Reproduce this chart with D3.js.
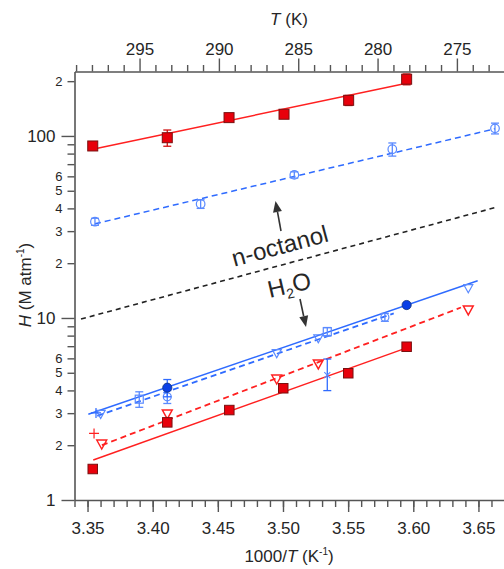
<!DOCTYPE html>
<html><head><meta charset="utf-8">
<script src="https://cdn.jsdelivr.net/npm/d3@7"></script>
<style>
body{margin:0;background:#fff}
svg{display:block}
text{font-family:"Liberation Sans",Arial,Helvetica,sans-serif;fill:#262626}
</style>
</head><body><svg id="c" width="504" height="569"></svg>
<script>
// ---------- data (x = 1000/T, H in M atm^-1) ----------
// n-octanol
const octRedX   = [3.354, 3.4112, 3.4586, 3.5008, 3.5504, 3.5949];
const octRedH   = [88.1, 97.8, 126.1, 131.6, 157, 205];
const octRedErr = [2, 10, 4, 3, 10, 14];
const octRedFitX = [3.354, 3.5949];
const octRedFitH = [84.5, 194.8];

const octBlueX   = [3.3557, 3.4368, 3.5087, 3.5839, 3.6627];
const octBlueH   = [33.8, 42.3, 61.1, 84.5, 110.1];
const octBlueErr = [1.5, 2.3, 2.4, 7, 7.5];
const octBlueFitX = [3.3557, 3.6627];
const octBlueFitH = [32.9, 109.5];

const blackFitX = [3.345, 3.6627];
const blackFitH = [9.87, 40.4];

// water
const watBlueFilledX = [3.4112, 3.5949];
const watBlueFilledH = [4.14, 11.78];
const watBlueFilledErr = [0.45, 0];
const watBlueFitX = [3.3506, 3.6494];
const watBlueFitH = [2.96, 16.0];
const watBluePlusX = [3.3565];
const watBluePlusH = [3.01];
const watBlueCircX = [3.4112, 3.5782];
const watBlueCircH = [3.69, 10.09];
const watBlueCircErr = [0.3, 0.5];
const watBlueSqX = [3.3897, 3.534];
const watBlueSqH = [3.58, 8.41];
const watBlueSqErr = [0.35, 0.45];
const watBlueTriX = [3.3601, 3.4952, 3.5271, 3.6422];
const watBlueTriH = [2.97, 6.40, 7.73, 14.56];
const watBlueCrossX = [3.534];
const watBlueCrossH = [4.86];
const watBlueCrossLo = [3.99];
const watBlueCrossHi = [5.95];
const watBlueDashX = [3.3575, 3.585];
const watBlueDashH = [2.90, 10.6];

const watRedTriX = [3.3609, 3.4112, 3.4952, 3.5271, 3.6422];
const watRedTriH = [2.03, 2.97, 4.62, 5.59, 11.07];
const watRedPlusX = [3.355];
const watRedPlusH = [2.32];
const watRedDashX = [3.361, 3.6366];
const watRedDashH = [2.00, 11.42];
const watRedSqX = [3.354, 3.4112, 3.4588, 3.5002, 3.5501, 3.5949];
const watRedSqH = [1.48, 2.67, 3.12, 4.11, 4.97, 6.95];
const watRedFitX = [3.3544, 3.5949];
const watRedFitH = [1.66, 6.85];

// ticks
const xMajor = [3.35, 3.40, 3.45, 3.50, 3.55, 3.60, 3.65];
const xMinor = d3.range(334, 368).map(v => v / 100);
const yMajor = [1, 10, 100];
const yMinor = [2,3,4,5,6,7,8,9,20,30,40,50,60,70,80,90,200];
const tMajor = [295, 290, 285, 280, 275];
const tMinor = d3.range(273, 300).filter(v => v % 5 !== 0);

// ---------- scales ----------
const svg = d3.select("#c");
const x = d3.scaleLinear().domain([3.34, 3.67]).range([74.5, 504.5]);
const y = d3.scaleLog().domain([1, 226]).range([500, 71.5]);
const xT = d3.scaleLinear().domain([299.1, 272.0]).range([74.5, 504.5]);

const AX = "#555";
function style(g, fs, keepDomain) {
  g.attr("font-family", null);
  if (!keepDomain) g.select(".domain").remove();
  else g.select(".domain").attr("stroke", AX).attr("stroke-width", 1.6);
  g.selectAll(".tick line").attr("stroke", AX).attr("stroke-width", 1.4);
  g.selectAll(".tick text").attr("font-size", fs).attr("fill", "#262626");
}

// bottom
svg.append("g").attr("transform", "translate(0,500)")
  .call(d3.axisBottom(x).tickValues(xMinor).tickSize(7).tickFormat("").tickSizeOuter(0))
  .call(g => style(g, 17, false));
svg.append("g").attr("transform", "translate(0,500)")
  .call(d3.axisBottom(x).tickValues(xMajor).tickSize(12).tickPadding(10).tickFormat(d3.format(".2f")).tickSizeOuter(0))
  .call(g => style(g, 17, true));
// top
svg.append("g").attr("transform", "translate(0,71.5)")
  .call(d3.axisTop(xT).tickValues(tMinor).tickSize(6.5).tickFormat("").tickSizeOuter(0))
  .call(g => style(g, 17, false));
svg.append("g").attr("transform", "translate(0,71.5)")
  .call(d3.axisTop(xT).tickValues(tMajor).tickSize(13).tickPadding(4).tickFormat(d3.format("d")).tickSizeOuter(0))
  .call(g => style(g, 17, true));
// left
svg.append("g").attr("transform", "translate(74.5,0)")
  .call(d3.axisLeft(y).tickValues(yMinor).tickSize(7).tickPadding(5).tickSizeOuter(0)
    .tickFormat(v => { const d = Math.round(v / Math.pow(10, Math.floor(Math.log10(v) + 1e-9))); return d <= 6 ? String(d) : ""; }))
  .call(g => style(g, 13, false));
svg.append("g").attr("transform", "translate(74.5,0)")
  .call(d3.axisLeft(y).tickValues(yMajor).tickSize(13).tickPadding(6).tickFormat(d3.format("d")).tickSizeOuter(0))
  .call(g => style(g, 17, true));

// axis titles
const tt = svg.append("text").attr("x", 289).attr("y", 25).attr("text-anchor", "middle").attr("font-size", 17);
tt.append("tspan").attr("font-style", "italic").text("T");
tt.append("tspan").text(" (K)");

const bt = svg.append("text").attr("x", 289).attr("y", 562).attr("text-anchor", "middle").attr("font-size", 17);
bt.append("tspan").text("1000/");
bt.append("tspan").attr("font-style", "italic").text("T");
bt.append("tspan").text(" (K");
bt.append("tspan").attr("font-size", 10).attr("dy", -7).text("-1");
bt.append("tspan").attr("dy", 7).text(")");

const lt = svg.append("text").attr("transform", "translate(31,285) rotate(-90)").attr("text-anchor", "middle").attr("font-size", 17);
lt.append("tspan").attr("font-style", "italic").text("H");
lt.append("tspan").text(" (M atm");
lt.append("tspan").attr("font-size", 10).attr("dy", -7).text("-1");
lt.append("tspan").attr("dy", 7).text(")");

// ---------- marks ----------
const plot = svg.append("g");
function fit(xs, hs, color, dash, w) {
  plot.append("path").datum(xs.map((v, i) => [v, hs[i]]))
    .attr("d", d3.line().x(d => x(d[0])).y(d => y(d[1])))
    .attr("fill", "none").attr("stroke", color).attr("stroke-width", w || 1.5)
    .attr("stroke-dasharray", dash || null);
}
function err(xv, lo, hi, color) {
  const px = x(xv), y1 = y(lo), y2 = y(hi);
  plot.append("line").attr("x1", px).attr("x2", px).attr("y1", y1).attr("y2", y2).attr("stroke", color).attr("stroke-width", 1.3);
  [y1, y2].forEach(yy => plot.append("line").attr("x1", px - 4).attr("x2", px + 4).attr("y1", yy).attr("y2", yy).attr("stroke", color).attr("stroke-width", 1.3));
}
function squares(xs, hs, s, fill, stroke, sw) {
  plot.selectAll(null).data(xs.map((v, i) => [v, hs[i]])).join("rect")
    .attr("x", d => x(d[0]) - s / 2).attr("y", d => y(d[1]) - s / 2).attr("width", s).attr("height", s)
    .attr("fill", fill).attr("stroke", stroke).attr("stroke-width", sw);
}
function circles(xs, hs, r, fill, stroke, sw) {
  plot.selectAll(null).data(xs.map((v, i) => [v, hs[i]])).join("circle")
    .attr("cx", d => x(d[0])).attr("cy", d => y(d[1])).attr("r", r)
    .attr("fill", fill).attr("stroke", stroke).attr("stroke-width", sw);
}
function tris(xs, hs, s, stroke, sw) {
  plot.selectAll(null).data(xs.map((v, i) => [v, hs[i]])).join("path")
    .attr("transform", d => `translate(${x(d[0])},${y(d[1])})`)
    .attr("d", `M${-s},${-s * 0.8}L${s},${-s * 0.8}L0,${s}Z`)
    .attr("fill", "none").attr("stroke", stroke).attr("stroke-width", sw);
}
function pluses(xs, hs, s, stroke) {
  plot.selectAll(null).data(xs.map((v, i) => [v, hs[i]])).join("path")
    .attr("transform", d => `translate(${x(d[0])},${y(d[1])})`)
    .attr("d", `M${-s},0H${s}M0,${-s}V${s}`)
    .attr("fill", "none").attr("stroke", stroke).attr("stroke-width", 1.2);
}
function crosses(xs, hs, s, stroke) {
  plot.selectAll(null).data(xs.map((v, i) => [v, hs[i]])).join("path")
    .attr("transform", d => `translate(${x(d[0])},${y(d[1])})`)
    .attr("d", `M${-s},${-s}L${s},${s}M${-s},${s}L${s},${-s}`)
    .attr("fill", "none").attr("stroke", stroke).attr("stroke-width", 1.1);
}

const RED = "#ff2020", BLUE = "#2f6bff", BLUE2 = "#5a8aff", BLK = "#222";

// lines
fit(blackFitX, blackFitH, BLK, "5,4", 1.6);
fit(octRedFitX, octRedFitH, RED, null, 1.5);
fit(octBlueFitX, octBlueFitH, BLUE, "6,4", 1.5);
fit(watRedFitX, watRedFitH, RED, null, 1.5);
fit(watRedDashX, watRedDashH, RED, "6,4", 1.8);
fit(watBlueFitX, watBlueFitH, BLUE, null, 1.5);
fit(watBlueDashX, watBlueDashH, BLUE, "6,4", 1.8);

// n-octanol markers
octRedX.forEach((v, i) => err(v, octRedH[i] - octRedErr[i], octRedH[i] + octRedErr[i], "#d01010"));
squares(octRedX, octRedH, 10, "#e8000b", "#7a1010", 1);
octBlueX.forEach((v, i) => err(v, octBlueH[i] - octBlueErr[i], octBlueH[i] + octBlueErr[i], BLUE2));
circles(octBlueX, octBlueH, 4.3, "none", BLUE2, 1.2);

// water markers
watBlueCircX.forEach((v, i) => err(v, watBlueCircH[i] - watBlueCircErr[i], watBlueCircH[i] + watBlueCircErr[i], BLUE2));
circles(watBlueCircX, watBlueCircH, 4, "none", BLUE2, 1.2);
watBlueSqX.forEach((v, i) => err(v, watBlueSqH[i] - watBlueSqErr[i], watBlueSqH[i] + watBlueSqErr[i], BLUE2));
squares(watBlueSqX, watBlueSqH, 8, "none", BLUE2, 1.2);
tris(watBlueTriX, watBlueTriH, 4.5, BLUE2, 1.2);
pluses(watBluePlusX, watBluePlusH, 5, BLUE);
watBlueCrossX.forEach((v, i) => err(v, watBlueCrossLo[i], watBlueCrossHi[i], BLUE));
crosses(watBlueCrossX, watBlueCrossH, 3, BLUE2);
watBlueFilledX.forEach((v, i) => { if (watBlueFilledErr[i] > 0) err(v, watBlueFilledH[i] - watBlueFilledErr[i], watBlueFilledH[i] + watBlueFilledErr[i], BLUE); });
circles(watBlueFilledX, watBlueFilledH, 4.6, "#0a3fe6", "#10307a", 0.8);

tris(watRedTriX, watRedTriH, 5, RED, 1.4);
pluses(watRedPlusX, watRedPlusH, 5, RED);
squares(watRedSqX, watRedSqH, 9.5, "#e8000b", "#7a1010", 1);

// ---------- annotations ----------
const ann = svg.append("g");
ann.append("text").attr("transform", "translate(282,254) rotate(-15)").attr("text-anchor", "middle")
  .attr("font-size", 24).attr("fill", "#333").text("n-octanol");
const h2o = ann.append("text").attr("transform", "translate(291,293) rotate(-13)").attr("text-anchor", "middle")
  .attr("font-size", 24).attr("fill", "#333");
h2o.append("tspan").text("H");
h2o.append("tspan").attr("font-size", 14).attr("dy", 5).text("2");
h2o.append("tspan").attr("dy", -5).text("O");

function arrow(x1, y1, x2, y2) {
  const a = Math.atan2(y2 - y1, x2 - x1), L = 11, W = 4.5;
  const bx = x2 - L * Math.cos(a), by = y2 - L * Math.sin(a);
  ann.append("line").attr("x1", x1).attr("y1", y1).attr("x2", bx).attr("y2", by).attr("stroke", "#333").attr("stroke-width", 1.6);
  ann.append("path").attr("d", `M${x2},${y2}L${bx + W * Math.sin(a)},${by - W * Math.cos(a)}L${bx - W * Math.sin(a)},${by + W * Math.cos(a)}Z`).attr("fill", "#333");
}
arrow(281, 231, 275.5, 201);
arrow(300, 299, 306, 327);
</script>
</body></html>
